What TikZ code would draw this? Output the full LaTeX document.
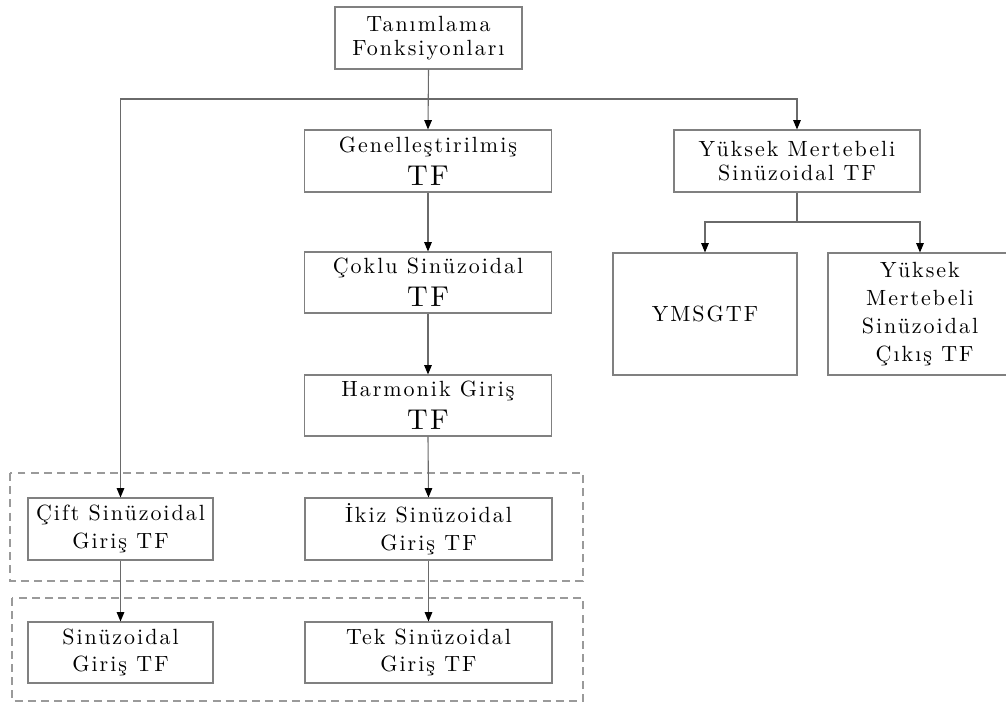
\documentclass[tikz,border=0pt]{standalone}
\usepackage{fontspec}
\usetikzlibrary{arrows.meta}
% spaced-out Latin Modern for all box labels
\newfontfamily\lmspaced{lmroman10-regular.otf}[LetterSpace=9]
\newdimen\pxu
\pxu=0.4545pt
\definecolor{boxline}{HTML}{808080}
\definecolor{linkline}{HTML}{6A6A6A}
\definecolor{groupline}{HTML}{9A9A9A}
\newcommand{\bigTF}{{\fontsize{13}{13}\selectfont TF}}
\tikzset{
  tfbox/.style={draw=boxline, line width=0.5pt, align=center, inner sep=0pt,
    font=\lmspaced\fontsize{10}{10.9}\selectfont},
  link/.style={draw=linkline, line width=0.5pt,
    -{Triangle[length=4.2pt,width=3.4pt,fill=black,color=black]}},
  group/.style={draw=groupline, line width=0.5pt, dash pattern=on 3.6pt off 2.4pt}
}
\begin{document}
\begin{tikzpicture}[x=1\pxu, y=-1\pxu]
\useasboundingbox (0,0) rectangle (1006,704);

% groups of related transfer functions
\draw[group] (10,473) rectangle (583,581);
\draw[group] (12,598) rectangle (583,701);

% boxes
\node[tfbox, minimum width=187\pxu, minimum height=62\pxu] (tan) at (428.5,38) {Tanımlama\\Fonksiyonları};
\node[tfbox, minimum width=247\pxu, minimum height=62\pxu] (gen) at (428,161) {Genelleştirilmiş\\[4pt]\bigTF};
\node[tfbox, minimum width=246\pxu, minimum height=62\pxu] (yms) at (797,161) {Yüksek Mertebeli\\Sinüzoidal TF};
\node[tfbox, minimum width=247\pxu, minimum height=61\pxu] (cok) at (428,282.5) {Çoklu Sinüzoidal\\[4pt]\bigTF};
\node[tfbox, minimum width=184\pxu, minimum height=122\pxu] (ymsg) at (705,314) {YMSGTF};
\node[tfbox, minimum width=184\pxu, minimum height=122\pxu,
      font=\lmspaced\fontsize{10}{12.6}\selectfont] (cik) at (920,314)
      {Yüksek\\Mertebeli\\Sinüzoidal\\\ Çıkış TF};
\node[tfbox, minimum width=247\pxu, minimum height=61\pxu] (har) at (428,405.5) {Harmonik Giriş\\[4pt]\bigTF};
\node[tfbox, minimum width=185\pxu, minimum height=62\pxu] (cift) at (120.5,529) {Çift Sinüzoidal\\[1.6pt]Giriş TF};
\node[tfbox, minimum width=247\pxu, minimum height=62\pxu] (ikiz) at (428.5,529) {İkiz Sinüzoidal\\[1.6pt]Giriş TF};
\node[tfbox, minimum width=185\pxu, minimum height=61\pxu] (sin) at (120.5,652.5) {Sinüzoidal\\[1.6pt]Giriş TF};
\node[tfbox, minimum width=247\pxu, minimum height=61\pxu] (tek) at (428.5,652.5) {Tek Sinüzoidal\\[1.6pt]Giriş TF};

% branching points
\coordinate (split) at (428,99);
\coordinate (split2) at (797,222);

% connectors
\draw[link] (tan.south) -- (gen.north);
\draw[link] (split) -| (cift.north);
\draw[link] (split) -| (yms.north);
\draw[link] (gen.south) -- (cok.north);
\draw[link] (cok.south) -- (har.north);
\draw[link] (har.south) -- (ikiz.north);
\draw[link] (ikiz.south) -- (tek.north);
\draw[link] (cift.south) -- (sin.north);
\draw[link] (yms.south) -- (split2) -| (ymsg.north);
\draw[link] (split2) -| (cik.north);
\end{tikzpicture}
\end{document}
